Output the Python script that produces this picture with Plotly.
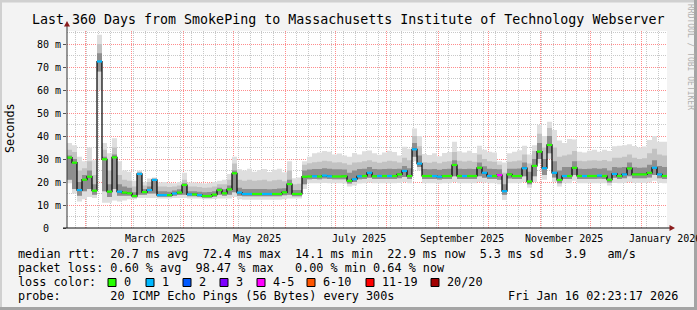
import pandas as pd
import plotly.graph_objects as go

# ---------------- data ----------------
title_text = "Last 360 Days from SmokePing to Massachusetts Institute of Technology Webserver"
end_time = pd.Timestamp("2026-01-16 02:23:17")
start_time = end_time - pd.Timedelta(days=360)
bin_days = 3

median_ms = [
    30.6, 28.4, 16.5, 21.0, 22.3, 16.2, 72.4, 29.9, 15.8, 30.7,
    15.8, 15.4, 15.1, 13.9, 23.5, 15.6, 16.5, 20.9, 14.3, 14.3,
    14.3, 15.0, 15.4, 18.7, 14.6, 14.6, 14.3, 13.9, 13.9, 14.5,
    16.5, 15.1, 16.8, 23.8, 15.4, 14.8, 14.8, 14.8, 14.8, 14.8,
    14.8, 14.8, 14.8, 15.5, 19.1, 14.8, 14.8, 22.3, 22.4, 22.5,
    22.4, 22.8, 22.5, 22.4, 22.4, 22.5, 20.5, 21.2, 22.5, 22.6,
    24.0, 22.5, 22.6, 22.6, 22.6, 22.6, 23.3, 24.8, 22.6, 34.2,
    28.0, 22.6, 22.6, 22.6, 22.3, 22.6, 22.6, 27.4, 22.6, 22.6,
    22.6, 22.6, 26.2, 24.0, 22.6, 22.6, 23.0, 16.0, 23.3, 22.6,
    22.6, 26.0, 20.2, 27.0, 33.2, 26.0, 36.1, 24.0, 20.9, 22.6,
    22.6, 26.2, 22.6, 22.6, 22.6, 22.6, 22.8, 22.6, 21.0, 23.5,
    22.6, 23.3, 25.9, 23.3, 23.3, 23.3, 24.0, 26.2, 23.3, 22.6,
]

loss_idx = [
    0, 0, 1, 0, 0, 0, 1, 0, 0, 0,
    1, 0, 0, 0, 1, 0, 1, 1, 1, 1,
    0, 1, 0, 0, 1, 0, 1, 0, 0, 0,
    0, 0, 0, 0, 1, 1, 1, 0, 0, 1,
    1, 0, 0, 0, 0, 0, 0, 0, 0, 1,
    0, 1, 1, 0, 0, 0, 0, 1, 1, 0,
    1, 0, 1, 0, 1, 0, 0, 1, 0, 1,
    1, 0, 0, 1, 1, 0, 0, 0, 0, 1,
    0, 0, 0, 1, 1, 0, 4, 1, 0, 0,
    0, 1, 0, 0, 0, 1, 0, 1, 0, 1,
    0, 0, 0, 1, 0, 0, 1, 0, 0, 1,
    0, 1, 0, 0, 0, 0, 0, 1, 1, 0,
]

smoke_min = [
    19.5, 15.0, 11.5, 12.5, 13.5, 13.0, 60.0, 11.0, 11.0, 12.0,
    11.5, 12.0, 12.5, 12.5, 13.0, 13.0, 13.0, 13.0, 12.8, 12.8,
    12.8, 13.0, 13.0, 13.0, 12.8, 12.8, 12.8, 12.5, 12.5, 12.6,
    12.8, 12.8, 12.8, 13.5, 12.5, 12.3, 12.3, 12.3, 12.3, 12.3,
    12.3, 12.3, 12.3, 12.5, 12.8, 12.8, 12.8, 17.0, 19.5, 19.5,
    19.5, 19.6, 19.5, 19.5, 19.5, 19.4, 18.0, 18.5, 19.4, 19.5,
    19.8, 19.5, 19.5, 19.5, 19.5, 19.5, 19.6, 20.0, 19.5, 29.0,
    25.0, 19.5, 19.5, 19.5, 19.4, 19.5, 19.5, 20.0, 19.5, 19.5,
    19.5, 19.5, 20.0, 19.8, 19.5, 19.5, 19.0, 12.2, 19.5, 19.5,
    19.5, 20.0, 17.5, 20.0, 28.0, 21.0, 30.0, 20.0, 18.0, 19.5,
    19.5, 20.5, 19.5, 19.5, 19.5, 19.5, 19.5, 19.5, 18.5, 19.6,
    19.5, 19.6, 20.0, 19.6, 19.6, 19.6, 19.8, 20.5, 19.6, 19.5,
]

smoke_lo = [
    21.0, 17.0, 14.0, 16.0, 17.0, 14.5, 68.0, 16.0, 13.5, 17.0,
    14.0, 14.0, 14.0, 13.3, 14.5, 14.5, 15.0, 15.0, 13.6, 13.6,
    13.6, 14.0, 14.3, 14.5, 13.8, 13.8, 13.6, 13.2, 13.2, 13.6,
    14.5, 14.0, 14.5, 15.5, 14.0, 13.8, 13.8, 13.8, 13.8, 13.8,
    13.8, 13.8, 13.8, 14.2, 14.5, 13.8, 13.8, 19.0, 21.2, 21.3,
    21.2, 21.5, 21.3, 21.2, 21.2, 21.2, 19.4, 20.0, 21.2, 21.3,
    21.8, 21.3, 21.3, 21.3, 21.3, 21.3, 21.6, 22.2, 21.3, 31.0,
    26.5, 21.3, 21.3, 21.3, 21.1, 21.3, 21.3, 22.5, 21.3, 21.3,
    21.3, 21.3, 22.5, 21.8, 21.3, 21.3, 21.0, 14.5, 21.5, 21.3,
    21.3, 22.5, 19.0, 22.5, 30.0, 23.0, 32.5, 22.0, 19.5, 21.3,
    21.3, 23.0, 21.3, 21.3, 21.3, 21.3, 21.4, 21.3, 19.8, 21.8,
    21.3, 21.6, 22.5, 21.6, 21.6, 21.6, 22.0, 23.0, 21.6, 21.3,
]

smoke_core = [
    31.5, 30.0, 20.0, 23.0, 25.0, 19.0, 76.0, 31.0, 19.0, 32.0,
    19.0, 18.0, 17.5, 15.5, 24.0, 17.0, 18.0, 21.3, 16.0, 16.0,
    15.8, 16.3, 16.8, 19.5, 16.0, 16.0, 15.8, 15.5, 15.6, 16.0,
    17.5, 16.8, 18.5, 25.0, 17.5, 17.0, 17.0, 17.0, 17.0, 17.0,
    16.8, 17.0, 17.2, 17.3, 21.0, 16.5, 16.5, 25.0, 25.4, 25.6,
    25.6, 26.0, 25.8, 25.5, 25.5, 25.4, 24.0, 25.0, 25.6, 25.8,
    26.5, 25.6, 25.5, 25.7, 25.8, 25.7, 25.8, 27.0, 26.0, 37.0,
    31.5, 25.6, 25.5, 25.7, 25.3, 25.7, 25.8, 29.5, 25.8, 25.7,
    25.8, 25.7, 28.5, 26.8, 25.8, 25.7, 25.5, 19.0, 25.8, 25.8,
    25.9, 28.5, 24.5, 30.0, 37.0, 30.0, 40.0, 29.0, 25.0, 26.5,
    26.5, 29.0, 25.8, 25.7, 25.8, 26.0, 25.8, 26.0, 25.0, 26.5,
    26.3, 26.5, 28.5, 26.4, 26.2, 26.3, 27.5, 29.5, 27.0, 26.5,
]

smoke_mid = [
    34.0, 33.0, 25.0, 26.0, 29.0, 23.0, 80.0, 34.0, 25.0, 35.0,
    23.0, 21.0, 20.5, 18.0, 24.5, 18.5, 20.0, 21.7, 18.0, 18.0,
    17.8, 18.0, 18.5, 21.0, 18.0, 18.0, 17.8, 17.5, 17.6, 18.0,
    19.0, 19.0, 21.0, 28.0, 21.0, 20.5, 21.0, 20.5, 20.8, 21.0,
    20.3, 20.8, 21.0, 20.3, 25.0, 19.0, 19.2, 27.5, 28.2, 28.6,
    28.8, 29.2, 29.0, 28.5, 28.6, 28.2, 27.5, 28.5, 28.6, 29.0,
    29.5, 28.8, 28.4, 28.8, 29.2, 29.0, 28.5, 30.5, 29.5, 40.0,
    35.5, 28.6, 28.4, 28.8, 28.2, 28.8, 29.0, 33.0, 29.2, 28.9,
    29.2, 28.8, 32.0, 30.0, 29.0, 28.8, 27.5, 24.0, 28.8, 29.0,
    29.4, 32.0, 28.0, 33.5, 41.0, 35.0, 43.5, 35.0, 31.0, 31.5,
    32.0, 33.5, 29.2, 29.0, 29.3, 29.5, 29.2, 29.6, 29.0, 30.5,
    30.5, 31.0, 32.0, 30.5, 30.0, 30.3, 32.5, 34.5, 32.0, 31.5,
]

smoke_max = [
    37.0, 36.0, 31.0, 29.0, 35.0, 29.5, 84.0, 37.0, 32.5, 39.0,
    29.0, 25.0, 24.5, 20.5, 25.0, 20.0, 21.5, 22.0, 19.8, 20.0,
    19.6, 19.5, 20.0, 24.0, 19.8, 19.8, 19.6, 19.4, 19.6, 20.0,
    20.5, 21.0, 23.5, 31.0, 25.5, 25.0, 25.8, 24.5, 25.2, 25.6,
    24.4, 25.3, 25.8, 24.2, 29.0, 21.6, 22.0, 29.0, 31.0, 32.5,
    32.8, 33.5, 33.2, 32.0, 32.4, 31.5, 31.0, 32.6, 32.0, 33.4,
    33.7, 32.5, 31.8, 32.8, 33.6, 33.0, 31.5, 35.3, 34.5, 43.3,
    40.0, 32.2, 31.7, 32.5, 31.2, 32.6, 33.0, 37.5, 33.4, 32.8,
    33.6, 32.6, 35.8, 34.0, 33.2, 32.8, 29.0, 28.5, 32.5, 33.2,
    33.8, 35.8, 32.0, 36.0, 44.8, 40.0, 46.2, 42.6, 38.0, 37.0,
    38.7, 38.5, 33.2, 32.8, 33.6, 34.0, 33.2, 34.0, 33.5, 35.5,
    35.8, 36.0, 36.4, 35.6, 35.0, 35.4, 38.3, 40.0, 37.5, 37.5,
]

loss_labels = ["0", "1", "2", "3", "4-5", "6-10", "11-19", "20/20"]
loss_colors = ["#26ff00", "#00b8ff", "#0059ff", "#7e00ff", "#ff00ff", "#ff5500", "#ff0000", "#a10000"]

y_tick_vals = [0, 10, 20, 30, 40, 50, 60, 70, 80]
y_tick_text = ["0  ", "10 m", "20 m", "30 m", "40 m", "50 m", "60 m", "70 m", "80 m"]

x_label_dates = ["2025-03-15", "2025-05-15", "2025-07-15", "2025-09-15", "2025-11-15", "2026-01-15"]
x_label_text = ["March 2025", "May 2025", "July 2025", "September 2025", "November 2025", "January 2026"]

y_title = "Seconds"
watermark = "RRDTOOL / TOBI OETIKER"
row_median = "median rtt:  20.7 ms avg  72.4 ms max  14.1 ms min  22.9 ms now  5.3 ms sd   3.9   am/s"
row_loss = "packet loss: 0.60 % avg  98.47 % max   0.00 % min 0.64 % now"
row_color = "loss color:"
row_probe = "probe:       20 ICMP Echo Pings (56 Bytes) every 300s"
row_date = "Fri Jan 16 02:23:17 2026"

# ---------------- geometry / style ----------------
W, H = 697, 310
L, R, T, B = 67, 30, 31, 82
PW, PH = W - L - R, H - T - B
MONO = "DejaVu Sans Mono"


def px(x):
    return (x - L) / PW


def py(y):
    return (H - B - y) / PH


def nb(s):
    return s.replace(" ", "\u00a0")


n = len(median_ms)
edges = [start_time + pd.Timedelta(days=bin_days * i) for i in range(n + 1)]


def step(v):
    return list(v) + [v[-1]]


fig = go.Figure()

bands = [
    (smoke_min, smoke_max, "#dedede"),
    (smoke_lo, smoke_mid, "#c2c2c2"),
    (smoke_lo, smoke_core, "#8e8e8e"),
]
for lo, hi, col in bands:
    fig.add_trace(go.Scatter(x=edges, y=step(lo), mode="lines",
                             line=dict(width=0, shape="hv"), hoverinfo="skip", showlegend=False))
    fig.add_trace(go.Scatter(x=edges, y=step(hi), mode="lines",
                             line=dict(width=0, shape="hv"), fill="tonexty", fillcolor=col,
                             hoverinfo="skip", showlegend=False))

fig.add_trace(go.Scatter(x=edges, y=step(median_ms), mode="lines",
                         line=dict(color="#000000", width=1.2, shape="hv"),
                         hoverinfo="skip", showlegend=False))

for k, col in enumerate(loss_colors):
    xs, ys = [], []
    for i in range(n):
        if loss_idx[i] == k:
            xs += [edges[i], edges[i + 1], None]
            ys += [median_ms[i], median_ms[i], None]
    if xs:
        fig.add_trace(go.Scatter(x=xs, y=ys, mode="lines", line=dict(color=col, width=2.2),
                                 hoverinfo="skip", showlegend=False, connectgaps=False))

GRID_MAJOR = "#ff8c8c"
GRID_MINOR = "#c8c8c8"
DASH = "1px,1px"

fig.update_xaxes(type="date", range=[start_time, end_time], tickmode="linear",
                 tick0="2025-02-01", dtick="M1", showticklabels=False, ticks="",
                 showgrid=True, gridcolor=GRID_MAJOR, griddash=DASH, gridwidth=1,
                 zeroline=False, showline=False,
                 minor=dict(tick0="2025-01-26", dtick=7 * 86400000, showgrid=True,
                            gridcolor=GRID_MINOR, griddash=DASH, gridwidth=1))
fig.update_yaxes(range=[0, 85.65], tickmode="array", tickvals=y_tick_vals,
                 ticktext=[nb(t) for t in y_tick_text],
                 tickfont=dict(family=MONO, size=10, color="#000"),
                 ticks="outside", ticklen=3, tickcolor="#555555",
                 showgrid=True, gridcolor=GRID_MAJOR, griddash=DASH, gridwidth=1,
                 zeroline=False, showline=False,
                 minor=dict(tick0=0, dtick=5, showgrid=True, gridcolor=GRID_MINOR,
                            griddash=DASH, gridwidth=1))

shapes = []
# frame
shapes.append(dict(type="rect", xref="paper", yref="paper", x0=px(0), x1=px(W), y0=py(0), y1=py(2.5),
                   fillcolor="#d0d0d0", line=dict(width=0), layer="above"))
shapes.append(dict(type="rect", xref="paper", yref="paper", x0=px(0), x1=px(2), y0=py(0), y1=py(H),
                   fillcolor="#d0d0d0", line=dict(width=0), layer="above"))
shapes.append(dict(type="rect", xref="paper", yref="paper", x0=px(0), x1=px(W), y0=py(307), y1=py(H),
                   fillcolor="#a4a4a4", line=dict(width=0), layer="above"))
shapes.append(dict(type="rect", xref="paper", yref="paper", x0=px(694), x1=px(W), y0=py(0), y1=py(H),
                   fillcolor="#a4a4a4", line=dict(width=0), layer="above"))
# axis lines
shapes.append(dict(type="line", xref="paper", yref="paper", x0=px(67), x1=px(67), y0=py(228), y1=py(26),
                   line=dict(color="#333333", width=1), layer="above"))
shapes.append(dict(type="line", xref="paper", yref="paper", x0=px(63), x1=px(670), y0=py(228), y1=py(228),
                   line=dict(color="#111111", width=1), layer="above"))
# arrows
shapes.append(dict(type="path", xref="paper", yref="paper",
                   path=f"M {px(67)} {py(21)} L {px(64)} {py(26.5)} L {px(70)} {py(26.5)} Z",
                   fillcolor="#8b1c1c", line=dict(width=0), layer="above"))
shapes.append(dict(type="path", xref="paper", yref="paper",
                   path=f"M {px(675)} {py(228)} L {px(669.5)} {py(225)} L {px(669.5)} {py(231)} Z",
                   fillcolor="#8b1c1c", line=dict(width=0), layer="above"))

box_left = [108, 146, 183, 220, 257, 307, 366, 431]
for bx, col in zip(box_left, loss_colors):
    shapes.append(dict(type="rect", xref="paper", yref="paper", x0=px(bx), x1=px(bx + 8),
                       y0=py(278.5), y1=py(286.5), fillcolor=col,
                       line=dict(color="#000000", width=1), layer="above"))

ann = []
ann.append(dict(text=nb(title_text), x=px(348), y=py(19), xref="paper", yref="paper",
                xanchor="center", yanchor="middle", showarrow=False,
                font=dict(family=MONO, size=13.3, color="#000")))
ann.append(dict(text=y_title, x=px(10), y=py(128), xref="paper", yref="paper", textangle=-90,
                xanchor="center", yanchor="middle", showarrow=False,
                font=dict(family=MONO, size=11.8, color="#000")))
ann.append(dict(text=nb(watermark), x=px(690), y=py(57), xref="paper", yref="paper", textangle=90,
                xanchor="center", yanchor="middle", showarrow=False,
                font=dict(family=MONO, size=8, color="#b0b0b0")))
for d, t in zip(x_label_dates, x_label_text):
    ann.append(dict(text=nb(t), x=d, y=py(238), xref="x", yref="paper", xanchor="center",
                    yanchor="middle", showarrow=False, font=dict(family=MONO, size=10, color="#000")))

rows = [(row_median, 254), (row_loss, 268), (row_color, 282), (row_probe, 296)]
for t, yy in rows:
    ann.append(dict(text=nb(t), x=px(16), y=py(yy), xref="paper", yref="paper", xanchor="left",
                    yanchor="middle", showarrow=False, font=dict(family=MONO, size=11.8, color="#000")))
ann.append(dict(text=nb(row_date), x=px(680), y=py(296), xref="paper", yref="paper", xanchor="right",
                yanchor="middle", showarrow=False, font=dict(family=MONO, size=11.8, color="#000")))
for bx, lab in zip(box_left, loss_labels):
    ann.append(dict(text=lab, x=px(bx + 14), y=py(282), xref="paper", yref="paper", xanchor="left",
                    yanchor="middle", showarrow=False, font=dict(family=MONO, size=11.8, color="#000")))

fig.update_layout(width=W, height=H, autosize=False,
                  margin=dict(l=L, r=R, t=T, b=B, pad=0),
                  paper_bgcolor="#f3f3f3", plot_bgcolor="#ffffff", showlegend=False,
                  font=dict(family=MONO, color="#000"),
                  shapes=shapes, annotations=ann)

fig.write_html("out.html")
